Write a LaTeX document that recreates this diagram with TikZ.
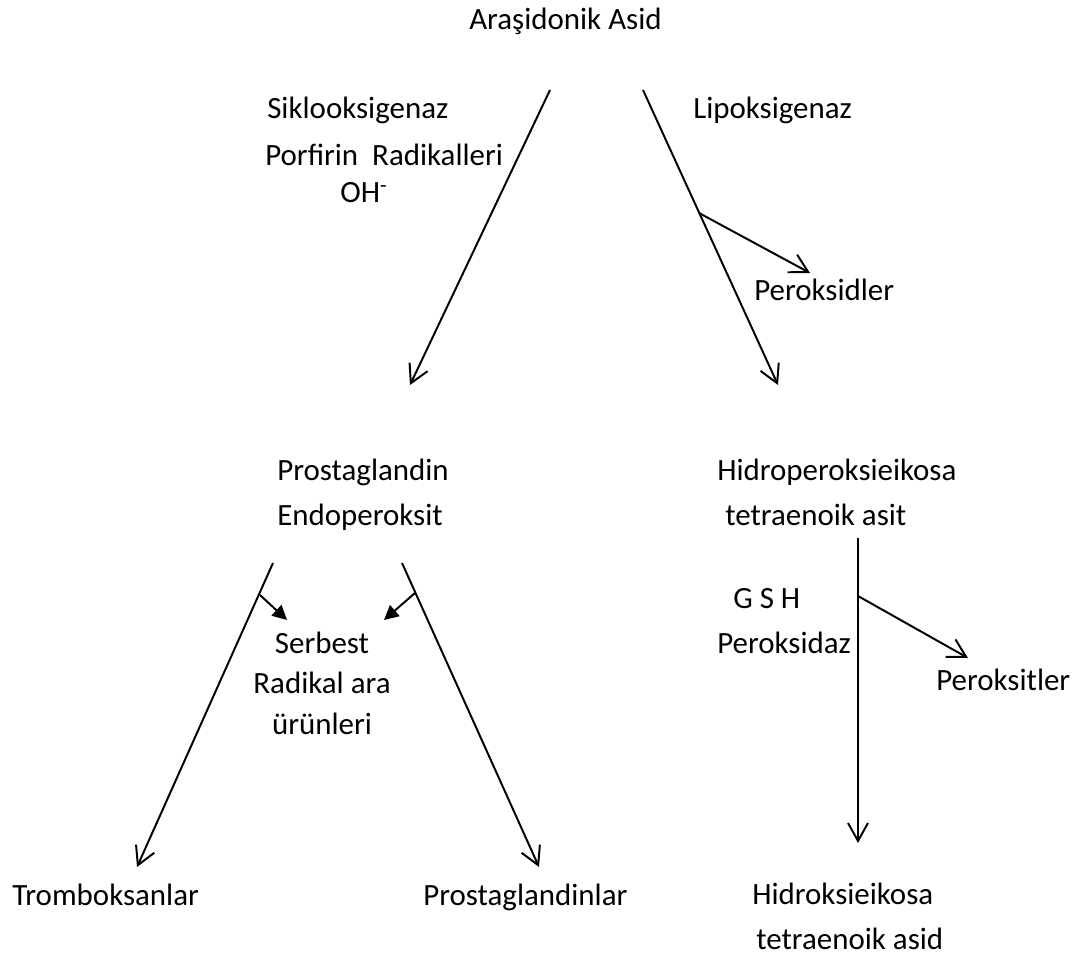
\documentclass[tikz,border=0pt]{standalone}
\usepackage{fontspec}
\setmainfont{Carlito}
\usetikzlibrary{arrows.meta}

\begin{document}
\begin{tikzpicture}[
    x=0.25mm, y=-0.25mm,
    font=\fontsize{22}{32}\selectfont,
    lbl/.style={inner sep=0pt, anchor=base west, align=left},
    flow/.style={line width=1.4pt, -{Straight Barb[length=4.5mm, width=5mm]}},
    side/.style={line width=1.4pt, -{Triangle[length=3.6mm, width=3.6mm]}}
]
    \useasboundingbox (0,0) rectangle (1085,958);

    % Top: substrate and the two enzyme routes
    \node[lbl] (aa) at (469,30) {Araşidonik Asid};
    \node[lbl] (cox) at (267,119) {Siklooksigenaz};
    \node[lbl] (por) at (265,166) {Porfirin\ \ Radikalleri};
    \node[lbl] (oh) at (340,203) {OH\textsuperscript{-}};
    \node[lbl] (lox) at (693,119) {Lipoksigenaz};
    \node[lbl] (perd) at (754,300) {Peroksidler};

    % Middle row (multi-line nodes sit on their last baseline)
    \node[lbl] (pge) at (277,525) {Prostaglandin\\Endoperoksit};
    \node[lbl] (hpe) at (717,525) {Hidroperoksieikosa\\\hspace*{2mm}tetraenoik asit};
    \node[lbl] (gsh) at (717,653) {\hspace*{4mm}G S H\\Peroksidaz};
    \node[lbl] (pert) at (936,690) {Peroksitler};
    \node[lbl, anchor=base, align=center, font=\fontsize{22}{28.5}\selectfont] (srb) at (322,734) {Serbest\\Radikal ara\\ürünleri};

    % Bottom row: end products
    \node[lbl] (tbx) at (12,905) {Tromboksanlar};
    \node[lbl] (pgl) at (423,905) {Prostaglandinlar};
    \node[lbl] (hhe) at (752,949) {Hidroksieikosa\\\hspace*{1mm}tetraenoik asid};

    % Free ends of the connectors
    \coordinate (coxA) at (550,90);
    \coordinate (coxB) at (410,385);
    \coordinate (loxA) at (643,90);
    \coordinate (loxB) at (778,385);
    \coordinate (perdA) at (699,213);
    \coordinate (perdB) at (810,273);
    \coordinate (tbxA) at (273,563);
    \coordinate (tbxB) at (137,867);
    \coordinate (pglA) at (402,563);
    \coordinate (pglB) at (539,867);
    \coordinate (srL) at (260,595);
    \coordinate (srLB) at (287,620);
    \coordinate (srR) at (415,593);
    \coordinate (srRB) at (384,620);
    \coordinate (gshA) at (858,538);
    \coordinate (gshB) at (858,843);
    \coordinate (pertA) at (858,596);
    \coordinate (pertB) at (968,658);

    % Connectors
    \draw[flow] (coxA) -- (coxB);
    \draw[flow] (loxA) -- (loxB);
    \draw[flow] (perdA) -- (perdB);
    \draw[flow] (tbxA) -- (tbxB);
    \draw[flow] (pglA) -- (pglB);
    \draw[flow] (gshA) -- (gshB);
    \draw[flow] (pertA) -- (pertB);
    \draw[side] (srL) -- (srLB);
    \draw[side] (srR) -- (srRB);

\end{tikzpicture}
\end{document}
